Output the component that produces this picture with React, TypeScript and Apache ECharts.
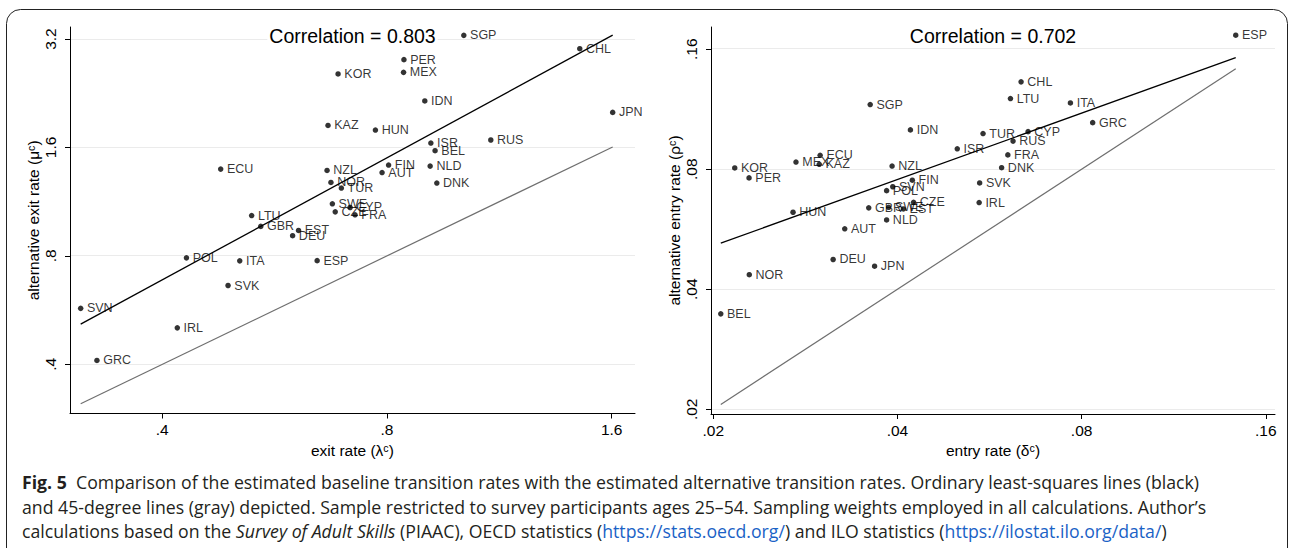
import React, { useEffect, useRef } from "react";
import * as echarts from "echarts";

// ---------- Data: left panel (exit rates) ----------
const exitCountries = ["SGP","CHL","PER","MEX","KOR","IDN","JPN","KAZ","HUN","ISR","RUS","BEL","NZL","FIN","AUT","NLD","NOR","TUR","DNK","SWE","CZE","CYP","FRA","ECU","LTU","GBR","EST","DEU","ESP","POL","ITA","SVK","SVN","IRL","GRC"];
const exitRate = [1.014,1.450,0.843,0.842,0.688,0.899,1.605,0.667,0.772,0.916,1.102,0.928,0.665,0.804,0.788,0.914,0.673,0.695,0.933,0.676,0.682,0.714,0.725,0.479,0.527,0.542,0.609,0.598,0.645,0.431,0.508,0.490,0.311,0.419,0.327];
const altExitRate = [3.276,3.008,2.805,2.586,2.560,2.154,2.002,1.842,1.788,1.646,1.678,1.567,1.381,1.430,1.363,1.420,1.279,1.234,1.274,1.116,1.060,1.090,1.040,1.393,1.035,0.966,0.941,0.910,0.776,0.790,0.775,0.662,0.572,0.505,0.410];
const exitFitX = [0.311, 1.605];
const exitFitY = [0.517, 3.28];
const exitDiag = [0.311, 1.605];
const exitXTicks = [0.4, 0.8, 1.6];
const exitXTickLabels = [".4", ".8", "1.6"];
const exitYTicks = [0.4, 0.8, 1.6, 3.2];
const exitYTickLabels = [".4", ".8", "1.6", "3.2"];
const exitXRange = [0.30093, 1.7194];
const exitYRange = [0.29208, 3.4556];
const exitCorr = "Correlation = 0.803";

// ---------- Data: right panel (entry rates) ----------
const entryCountries = ["SGP","IDN","ISR","ECU","MEX","KAZ","KOR","NZL","PER","FIN","SVN","POL","CZE","GBR","SWE","EST","HUN","NLD","AUT","DEU","JPN","NOR","BEL","ESP","CHL","LTU","ITA","GRC","TUR","CYP","RUS","FRA","DNK","SVK","IRL"];
const entryRate = [0.0361,0.0420,0.0501,0.0299,0.0273,0.0298,0.02168,0.0392,0.02288,0.0423,0.0393,0.0384,0.0425,0.0359,0.0387,0.0409,0.0270,0.0384,0.0328,0.0314,0.0367,0.0229,0.02057,0.1429,0.0637,0.0612,0.0767,0.0834,0.0552,0.0654,0.0618,0.0606,0.0592,0.0545,0.0544];
const altEntryRate = [0.1162,0.1004,0.0900,0.0867,0.0834,0.0823,0.0806,0.0815,0.0761,0.0751,0.0723,0.0707,0.0661,0.0640,0.0642,0.0636,0.0624,0.0597,0.0567,0.0475,0.0457,0.0435,0.0347,0.1735,0.1325,0.1203,0.1173,0.1047,0.0983,0.0994,0.0941,0.0869,0.0807,0.0739,0.0660];
const entryFitX = [0.02057, 0.1429];
const entryFitY = [0.0522, 0.1524];
const entryDiag = [0.02057, 0.1429];
const entryXTicks = [0.02, 0.04, 0.08, 0.16];
const entryXTickLabels = [".02", ".04", ".08", ".16"];
const entryYTicks = [0.02, 0.04, 0.08, 0.16];
const entryYTickLabels = [".02", ".04", ".08", ".16"];
const entryXRange = [0.019827, 0.16566];
const entryYRange = [0.019463, 0.18188];
const entryCorr = "Correlation = 0.702";

const FONT = "'Liberation Sans', Arial, Helvetica, sans-serif";
const CAP_FONT = "'Open Sans', 'Noto Sans', sans-serif";
const CAP_SIZE = 17.7;
const L2 = (v: number) => Math.log2(v);

function makeAxis(ticks: number[], labels: string[], range: number[], name: string, isY: boolean, gridIndex: number) {
  const tv = ticks.map(L2);
  const fmt = (val: number) => {
    const i = tv.findIndex((t) => Math.abs(t - val) < 1e-6);
    return i >= 0 ? labels[i] : "";
  };
  return {
    type: "value",
    gridIndex,
    min: L2(range[0]),
    max: L2(range[1]),
    name,
    nameLocation: "middle",
    nameGap: isY ? 27 : 26,
    nameTextStyle: { fontFamily: FONT, fontSize: 15.5, color: "#000" },
    axisLine: { show: true, onZero: false, lineStyle: { color: "#000", width: 1 } },
    axisTick: { show: true, inside: false, length: 5, customValues: tv, lineStyle: { color: "#000", width: 1 } },
    axisLabel: {
      show: true,
      customValues: tv,
      formatter: fmt,
      rotate: isY ? 90 : 0,
      margin: isY ? 12 : 8,
      fontFamily: FONT,
      fontSize: 15.5,
      color: "#000",
    },
    splitLine: { show: false },
  };
}

function panelSeries(idx: number, countries: string[], xs: number[], ys: number[], fitX: number[], fitY: number[], diag: number[], yTicks: number[]) {
  return [
    {
      type: "line",
      xAxisIndex: idx,
      yAxisIndex: idx,
      data: diag.map((d) => [L2(d), L2(d)]),
      showSymbol: false,
      symbol: "none",
      silent: true,
      z: 1,
      lineStyle: { color: "#6f6f6f", width: 1.2 },
      markLine: {
        silent: true,
        symbol: ["none", "none"],
        label: { show: false },
        lineStyle: { color: "#ebebeb", width: 1, type: "solid" },
        data: yTicks.map((t) => ({ yAxis: L2(t) })),
        z: 0,
      },
    },
    {
      type: "line",
      xAxisIndex: idx,
      yAxisIndex: idx,
      data: fitX.map((x, i) => [L2(x), L2(fitY[i])]),
      showSymbol: false,
      symbol: "none",
      silent: true,
      z: 2,
      lineStyle: { color: "#000", width: 1.3 },
    },
    {
      type: "scatter",
      xAxisIndex: idx,
      yAxisIndex: idx,
      symbol: "circle",
      symbolSize: 5.5,
      z: 3,
      itemStyle: { color: "#000" },
      label: {
        show: true,
        position: "right",
        distance: 3.5,
        formatter: "{b}",
        fontFamily: FONT,
        fontSize: 12.5,
        color: "#000",
      },
      data: countries.map((c, i) => ({ name: c, value: [L2(xs[i]), L2(ys[i])] })),
    },
  ];
}

const capLines = [
  "{b|Fig. 5}  Comparison of the estimated baseline transition rates with the estimated alternative transition rates. Ordinary least-squares lines (black)",
  "and 45-degree lines (gray) depicted. Sample restricted to survey participants ages 25\u201354. Sampling weights employed in all calculations. Author\u2019s",
  "calculations based on the {i|Survey of Adult Skills} (PIAAC), OECD statistics ({u|https://stats.oecd.org/}) and ILO statistics ({u|https://ilostat.ilo.org/data/})",
];
const capY = [481.7, 506.7, 530.5];

export default function App() {
  const ref = useRef<HTMLDivElement>(null);
  useEffect(() => {
    document.body.style.margin = "0";
    if (!ref.current) return;
    const chart = echarts.init(ref.current, undefined, { renderer: "svg" });
    const option: any = {
      animation: false,
      backgroundColor: "#fff",
      grid: [
        { left: 70, top: 27, width: 565, height: 386.5 },
        { left: 711, top: 27, width: 564, height: 387 },
      ],
      xAxis: [
        makeAxis(exitXTicks, exitXTickLabels, exitXRange, "exit rate (\u03bb\u1d9c)", false, 0),
        makeAxis(entryXTicks, entryXTickLabels, entryXRange, "entry rate (\u03b4\u1d9c)", false, 1),
      ],
      yAxis: [
        makeAxis(exitYTicks, exitYTickLabels, exitYRange, "alternative exit rate (\u03bc\u1d9c)", true, 0),
        makeAxis(entryYTicks, entryYTickLabels, entryYRange, "alternative entry rate (\u03c1\u1d9c)", true, 1),
      ],
      series: [
        ...panelSeries(0, exitCountries, exitRate, altExitRate, exitFitX, exitFitY, exitDiag, exitYTicks),
        ...panelSeries(1, entryCountries, entryRate, altEntryRate, entryFitX, entryFitY, entryDiag, entryYTicks),
      ],
      graphic: [
        {
          type: "rect",
          silent: true,
          shape: { x: 6.5, y: 9.5, width: 1281, height: 700, r: 14 },
          style: { fill: "none", stroke: "#222", lineWidth: 1 },
        },
        {
          type: "text",
          x: 352.5,
          y: 35.5,
          z: 10,
          style: {
            text: exitCorr, fontFamily: FONT, fontSize: 19.5, fill: "#000", align: "center", verticalAlign: "middle",
            backgroundColor: "#fff", padding: [1, 2, 1, 2],
          },
        },
        {
          type: "text",
          x: 993,
          y: 35.5,
          z: 10,
          style: {
            text: entryCorr, fontFamily: FONT, fontSize: 19.5, fill: "#000", align: "center", verticalAlign: "middle",
            backgroundColor: "#fff", padding: [1, 2, 1, 2],
          },
        },
        ...capLines.map((t, i) => ({
          type: "text",
          x: 22,
          y: capY[i],
          style: {
            text: t,
            fontFamily: CAP_FONT,
            fontSize: CAP_SIZE,
            fill: "#231f20",
            align: "left",
            verticalAlign: "middle",
            rich: {
              b: { fontFamily: CAP_FONT, fontSize: CAP_SIZE, fontWeight: "bold", fill: "#231f20" },
              i: { fontFamily: CAP_FONT, fontSize: CAP_SIZE, fontStyle: "italic", fill: "#231f20" },
              u: { fontFamily: CAP_FONT, fontSize: CAP_SIZE, fill: "#1a62c6" },
            },
          },
        })),
      ],
    };
    chart.setOption(option);
    return () => chart.dispose();
  }, []);
  return <div ref={ref} style={{ width: 1291, height: 548 }} />;
}
